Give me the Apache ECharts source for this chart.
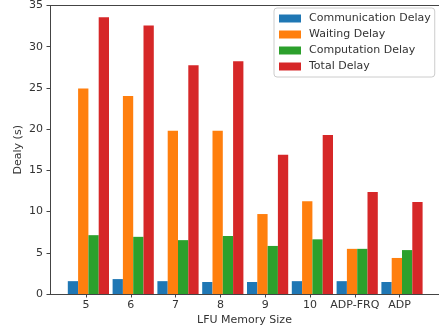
<!DOCTYPE html>
<html>
<head>
<meta charset="utf-8">
<script src="https://cdn.jsdelivr.net/npm/echarts@6/dist/echarts.min.js"></script>
<style>html,body{margin:0;padding:0;background:#fff;}#c{width:439px;height:335px;}</style>
</head>
<body>
<div id="c"></div>
<script>
const categories = ['5', '6', '7', '8', '9', '10', 'ADP-FRQ', 'ADP'];
const seriesNames = ['Communication Delay', 'Waiting Delay', 'Computation Delay', 'Total Delay'];
const commDelay = [1.55, 1.8, 1.55, 1.45, 1.45, 1.55, 1.55, 1.45];
const waitDelay = [24.8, 23.9, 19.7, 19.7, 9.65, 11.2, 5.45, 4.35];
const compDelay = [7.1, 6.9, 6.5, 7.0, 5.8, 6.6, 5.45, 5.3];
const totalDelay = [33.4, 32.4, 27.6, 28.1, 16.8, 19.2, 12.3, 11.1];
const yTicks = [0, 5, 10, 15, 20, 25, 30, 35];
const colors = ['#1f77b4', '#ff7f0e', '#2ca02c', '#d62728'];

const FONT = 'DejaVu Sans';
const FS = 11;
const TXT = '#333';
const LINE = '#444';
const gTop = 4, gBottom = 41;

const chart = echarts.init(document.getElementById('c'), null, {renderer: 'canvas'});
const allData = [commDelay, waitDelay, compDelay, totalDelay];
chart.setOption({
  animation: false,
  backgroundColor: '#fff',
  color: colors,
  textStyle: {fontFamily: FONT},
  grid: [
    {left: 50, right: -2, top: gTop, bottom: gBottom, containLabel: false},
    {left: 66.0, right: 14.6, top: gTop, bottom: gBottom, containLabel: false},
    {left: 63.6, right: 17.0, top: gTop, bottom: gBottom, containLabel: false}
  ],
  xAxis: [
    {gridIndex: 0, type: 'value', min: 0, max: 1, position: 'bottom',
     axisLine: {show: true, lineStyle: {color: LINE, width: 1}},
     axisTick: {show: false}, axisLabel: {show: false}, splitLine: {show: false},
     name: 'LFU Memory Size', nameLocation: 'middle', nameGap: 21,
     nameTextStyle: {fontFamily: FONT, fontSize: FS, color: TXT}},
    {gridIndex: 0, type: 'value', min: 0, max: 1, position: 'top',
     axisLine: {show: true, onZero: false, lineStyle: {color: LINE, width: 1}},
     axisTick: {show: false}, axisLabel: {show: false}, splitLine: {show: false}},
    {gridIndex: 1, type: 'category', data: categories,
     axisLine: {show: false}, axisTick: {show: false}, axisLabel: {show: false}, splitLine: {show: false}},
    {gridIndex: 2, type: 'category', data: categories,
     axisLine: {show: false},
     axisTick: {show: true, alignWithLabel: true, interval: 0, length: 3.5, lineStyle: {color: LINE}},
     axisLabel: {show: true, interval: 0, fontFamily: FONT, fontSize: FS, color: TXT, margin: 6},
     splitLine: {show: false}}
  ],
  yAxis: [
    {gridIndex: 0, type: 'value', min: 0, max: 35, interval: 5,
     axisLine: {show: true, lineStyle: {color: LINE, width: 1}},
     axisTick: {show: true, length: 3.5, lineStyle: {color: LINE}},
     axisLabel: {fontFamily: FONT, fontSize: FS, color: TXT, margin: 7,
       formatter: v => (yTicks.indexOf(v) >= 0 ? String(v) : '')},
     splitLine: {show: false},
     name: 'Dealy (s)', nameLocation: 'middle', nameGap: 26, nameMoveOverlap: false,
     nameTextStyle: {fontFamily: FONT, fontSize: FS, color: TXT}},
    {gridIndex: 1, type: 'value', min: 0, max: 35, interval: 5, show: false},
    {gridIndex: 2, type: 'value', min: 0, max: 35, interval: 5, show: false}
  ],
  legend: {
    orient: 'vertical', left: 274, top: 8,
    data: seriesNames,
    icon: 'rect', itemWidth: 22, itemHeight: 8, itemGap: 3,
    padding: [4, 4, 4, 5],
    backgroundColor: 'rgba(255,255,255,0.8)',
    borderColor: '#cccccc', borderWidth: 1, borderRadius: 3,
    textStyle: {fontFamily: FONT, fontSize: FS, color: TXT, lineHeight: 13, padding: [0, 0, 0, 3]}
  },
  series: seriesNames.map((n, i) => ({
    name: n, type: 'bar', xAxisIndex: 2, yAxisIndex: 1,
    data: allData[i], barWidth: 10.3, barGap: '0%',
    itemStyle: {color: colors[i]}
  }))
});
</script>
</body>
</html>
